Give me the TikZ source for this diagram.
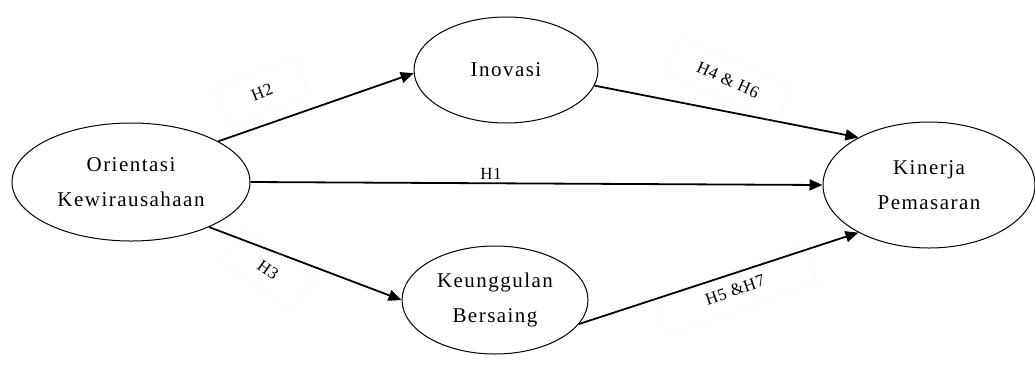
\documentclass[tikz,border=0pt]{standalone}
\usepackage{fontspec}
\setmainfont{Liberation Serif}
\usetikzlibrary{arrows.meta,shapes.geometric}
\begin{document}
\begin{tikzpicture}[x=1pt,y=-1pt,
  latent/.style={draw=black,line width=1pt,ellipse,inner sep=0pt,align=center,font=\fontsize{21}{35}\selectfont\addfontfeature{LetterSpace=7}},
  conn/.style={draw=black,line width=1.8pt,-{Triangle[length=13pt,width=11pt]}},
  hlab/.style={font=\fontsize{17}{19}\selectfont\addfontfeature{LetterSpace=4},draw=black!10,densely dotted,line width=0.4pt,inner sep=0pt,minimum height=40pt}]
\useasboundingbox (0,0) rectangle (1035,365);
\node[latent,minimum width=238pt,minimum height=118pt] (ok) at (131,182) {Orientasi\\Kewirausahaan};
\node[latent,minimum width=184pt,minimum height=106pt] (in) at (506,70) {Inovasi};
\node[latent,minimum width=186pt,minimum height=108pt] (kb) at (495,300) {Keunggulan\\Bersaing};
\node[latent,minimum width=212pt,minimum height=126pt] (kp) at (929,185) {Kinerja\\Pemasaran};
\draw[conn] (ok.25) -- (in.182);
\draw[conn] (ok.east) -- (kp.west);
\draw[conn] (ok.-30) -- (kb.180);
\draw[conn] (in.-10) -- (kp.146);
\draw[conn] (kb.-16) -- (kp.-146);
\node[font=\fontsize{17}{19}\selectfont\addfontfeature{LetterSpace=4}] (h1) at (491,174) {H1};
\node[hlab,rotate=22,minimum width=86pt] (h2) at (262,92) {H2};
\node[hlab,rotate=-24,minimum width=120pt] (h46) at (728,80) {H4 \& H6};
\node[hlab,rotate=-35,minimum width=86pt] (h3) at (268,270) {H3};
\node[hlab,rotate=19,minimum width=160pt] (h57) at (735,290) {H5 \&H7};
\end{tikzpicture}
\end{document}
